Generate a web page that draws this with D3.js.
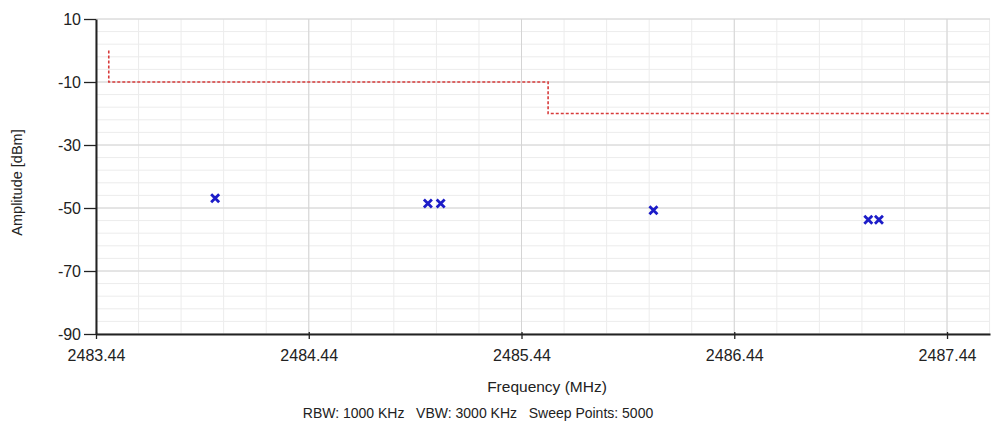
<!DOCTYPE html>
<html>
<head>
<meta charset="utf-8">
<script src="https://cdn.jsdelivr.net/npm/d3@7"></script>
<style>
  html, body { margin: 0; padding: 0; background: #fff; }
  svg { display: block; }
  text { font-family: "Liberation Sans", Arial, sans-serif; fill: #222; }
</style>
</head>
<body>
<svg id="chart" width="991" height="429"></svg>
<script>
// ---- data ----
const markerFreqs = [2484.00, 2485.00, 2485.06, 2486.06, 2487.07, 2487.12];
const markerAmps  = [-46.9, -48.6, -48.6, -50.7, -53.7, -53.7];
const limitFreqs  = [2483.50, 2483.50, 2485.565, 2485.565, 2487.64];
const limitAmps   = [0, -10, -10, -20, -20];
const xTickValues = [2483.44, 2484.44, 2485.44, 2486.44, 2487.44];
const xTickLabels = ["2483.44", "2484.44", "2485.44", "2486.44", "2487.44"];
const yTickValues = [10, -10, -30, -50, -70, -90];
const yTickLabels = ["10", "-10", "-30", "-50", "-70", "-90"];
const xDomain = [2483.44, 2487.642];
const yDomain = [-90, 10];
const xTitle = "Frequency (MHz)";
const yTitle = "Amplitude [dBm]";
const footer = "RBW: 1000 KHz   VBW: 3000 KHz   Sweep Points: 5000";

// ---- layout ----
const pLeft = 96, pTop = 19, pRight = 990, pBottom = 334;
const svg = d3.select("#chart");
const x = d3.scaleLinear().domain(xDomain).range([pLeft, pRight]);
const y = d3.scaleLinear().domain(yDomain).range([pBottom, pTop]);

// minor grid
const minorX = d3.range(0, 22).map(i => xDomain[0] + i * 0.2).filter(v => v <= xDomain[1]);
const minorY = d3.range(0, 26).map(i => yDomain[0] + i * 4).filter(v => v <= yDomain[1]);
svg.append("g").selectAll("line").data(minorX).join("line")
  .attr("x1", d => x(d)).attr("x2", d => x(d)).attr("y1", pTop).attr("y2", pBottom)
  .attr("stroke", "#ececec").attr("stroke-width", 1);
svg.append("g").selectAll("line").data(minorY).join("line")
  .attr("x1", pLeft).attr("x2", pRight).attr("y1", d => y(d)).attr("y2", d => y(d))
  .attr("stroke", "#ececec").attr("stroke-width", 1);
// major grid
svg.append("g").selectAll("line").data(xTickValues).join("line")
  .attr("x1", d => x(d)).attr("x2", d => x(d)).attr("y1", pTop).attr("y2", pBottom)
  .attr("stroke", "#d4d4d4").attr("stroke-width", 1);
svg.append("g").selectAll("line").data(yTickValues).join("line")
  .attr("x1", pLeft).attr("x2", pRight).attr("y1", d => y(d)).attr("y2", d => y(d))
  .attr("stroke", "#d4d4d4").attr("stroke-width", 1.2);

// limit line
const line = d3.line().x(d => x(d[0])).y(d => y(d[1]));
svg.append("path")
  .datum(limitFreqs.map((f, i) => [f, limitAmps[i]]))
  .attr("d", line).attr("fill", "none")
  .attr("stroke", "#d83a3a").attr("stroke-width", 1.6)
  .attr("stroke-dasharray", "3,2");

// markers
const s = 4;
svg.append("g").selectAll("path")
  .data(markerFreqs.map((f, i) => [f, markerAmps[i]])).join("path")
  .attr("d", d => {
    const cx = x(d[0]), cy = y(d[1]);
    return `M${cx - s},${cy - s}L${cx + s},${cy + s}M${cx - s},${cy + s}L${cx + s},${cy - s}`;
  })
  .attr("stroke", "#1c1cc8").attr("stroke-width", 2.8).attr("fill", "none");

// axes
const xAxis = d3.axisBottom(x).tickValues(xTickValues)
  .tickFormat((d, i) => xTickLabels[i]).tickSizeInner(5).tickSizeOuter(0).tickPadding(11);
const gx = svg.append("g").attr("transform", `translate(0,${pBottom})`).call(xAxis);
gx.select(".domain").attr("stroke", "#222").attr("stroke-width", 2);
gx.selectAll(".tick line").attr("stroke", "#222").attr("stroke-width", 1.3).attr("y1", -2);
gx.selectAll(".tick text").attr("font-size", 16).attr("fill", "#222")
  .attr("font-family", "Liberation Sans, Arial, sans-serif");

const yAxis = d3.axisLeft(y).tickValues(yTickValues)
  .tickFormat((d, i) => yTickLabels[i]).tickSizeInner(12).tickSizeOuter(0).tickPadding(3);
const gy = svg.append("g").attr("transform", `translate(${pLeft},0)`).call(yAxis);
gy.select(".domain").attr("stroke", "#222").attr("stroke-width", 2);
gy.selectAll(".tick line").attr("stroke", "#222").attr("stroke-width", 1.3);
gy.selectAll(".tick text").attr("font-size", 16).attr("fill", "#222")
  .attr("font-family", "Liberation Sans, Arial, sans-serif");

// titles
svg.append("text").attr("x", 547).attr("y", 388).attr("text-anchor", "middle")
  .attr("dominant-baseline", "middle").attr("font-size", 15.5).text(xTitle);
svg.append("text").attr("transform", `translate(18,${(pTop + pBottom) / 2 + 6}) rotate(-90)`)
  .attr("text-anchor", "middle").attr("dominant-baseline", "middle")
  .attr("font-size", 14.5).text(yTitle);
svg.append("text").attr("x", 478).attr("y", 414).attr("text-anchor", "middle")
  .attr("dominant-baseline", "middle").attr("font-size", 14).attr("xml:space", "preserve")
  .style("white-space", "pre").text(footer);
</script>
</body>
</html>
